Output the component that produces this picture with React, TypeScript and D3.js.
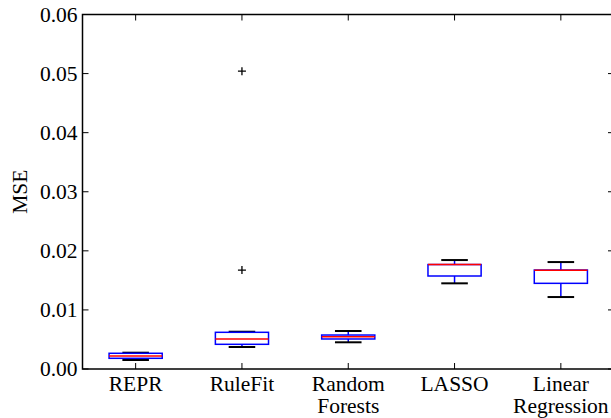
import React from "react";
import { scaleLinear, range, format } from "d3";

// box plot stats
const categories = ["REPR", "RuleFit", "Random\nForests", "LASSO", "Linear\nRegression"];
const whiskerLow = [0.00152, 0.00372, 0.00452, 0.0145, 0.01218];
const q1 = [0.00181, 0.00418, 0.00508, 0.01574, 0.0145];
const median = [0.0022, 0.00508, 0.00547, 0.0177, 0.0167];
const q3 = [0.00266, 0.00621, 0.00575, 0.01768, 0.01675];
const whiskerHigh = [0.00276, 0.00631, 0.00643, 0.01844, 0.0181];
const outliers = [[], [0.01675, 0.0504], [], [], []];
const yTicks = range(0, 0.0601, 0.01);

const W = 611;
const H = 418;
const FONT = "'Liberation Serif', 'DejaVu Serif', serif";
const FS = 21.5;

export default function App() {
  const x = scaleLinear().domain([0.5, 5.5]).range([82.5, 614]);
  const y = scaleLinear().domain([0, 0.06]).range([369, 14.5]);
  const fmt = format(".2f");
  const half = x(1.25) - x(1); // half box width (box width 0.5)
  const capHalf = half / 2;
  const [x0, x1] = x.range();
  const [y0, y1] = y.range();

  return (
    <svg width={W} height={H} style={{ position: "absolute", left: 0, top: 0, background: "#fff" }}>
      <rect x={0} y={0} width={W} height={H} fill="#fff" />

      {/* boxes */}
      {categories.map((c, i) => {
        const cx = x(i + 1);
        return (
          <g key={c}>
            {/* whiskers */}
            <line x1={cx} x2={cx} y1={y(whiskerLow[i])} y2={y(q1[i])} stroke="#0000ff" strokeWidth={1.5} />
            <line x1={cx} x2={cx} y1={y(q3[i])} y2={y(whiskerHigh[i])} stroke="#0000ff" strokeWidth={1.5} />
            {/* caps */}
            <line x1={cx - capHalf} x2={cx + capHalf} y1={y(whiskerLow[i])} y2={y(whiskerLow[i])} stroke="#000" strokeWidth={2} />
            <line x1={cx - capHalf} x2={cx + capHalf} y1={y(whiskerHigh[i])} y2={y(whiskerHigh[i])} stroke="#000" strokeWidth={2} />
            {/* box */}
            <rect
              x={cx - half}
              y={y(q3[i])}
              width={half * 2}
              height={y(q1[i]) - y(q3[i])}
              fill="none"
              stroke="#0000ff"
              strokeWidth={1.5}
            />
            {/* median */}
            <line x1={cx - half} x2={cx + half} y1={y(median[i])} y2={y(median[i])} stroke="#ff0000" strokeWidth={1.5} />
            {/* fliers */}
            {outliers[i].map((v, j) => (
              <path
                key={j}
                d={`M${cx - 4},${y(v)}H${cx + 4}M${cx},${y(v) - 4}V${y(v) + 4}`}
                stroke="#000"
                strokeWidth={1.3}
              />
            ))}
          </g>
        );
      })}

      {/* y ticks left + right */}
      {yTicks.map((t) => (
        <g key={t}>
          <line x1={x0} x2={x0 + 6} y1={y(t)} y2={y(t)} stroke="#000" strokeWidth={1} />
          <line x1={x1 - 6} x2={x1} y1={y(t)} y2={y(t)} stroke="#000" strokeWidth={1} />
          <text
            x={x0 - 5}
            y={y(t)}
            textAnchor="end"
            dominantBaseline="central"
            fontFamily={FONT}
            fontSize={FS}
            fill="#000"
          >
            {fmt(t)}
          </text>
        </g>
      ))}

      {/* x ticks bottom + top, labels */}
      {categories.map((c, i) => {
        const cx = x(i + 1);
        return (
          <g key={"t" + c}>
            <line x1={cx} x2={cx} y1={y0} y2={y0 - 6} stroke="#000" strokeWidth={1} />
            <line x1={cx} x2={cx} y1={y1} y2={y1 + 6} stroke="#000" strokeWidth={1} />
            <text x={cx} y={y0 + 22} textAnchor="middle" fontFamily={FONT} fontSize={FS} fill="#000">
              {c.split("\n").map((line, k) => (
                <tspan key={k} x={cx} dy={k === 0 ? 0 : 22}>
                  {line}
                </tspan>
              ))}
            </text>
          </g>
        );
      })}

      {/* frame */}
      <rect x={x0} y={y1} width={x1 - x0} height={y0 - y1} fill="none" stroke="#000" strokeWidth={1.5} />

      <text
        transform={`translate(27, ${(y0 + y1) / 2}) rotate(-90)`}
        textAnchor="middle"
        fontFamily={FONT}
        fontSize={FS}
        fill="#000"
      >
        MSE
      </text>
    </svg>
  );
}
